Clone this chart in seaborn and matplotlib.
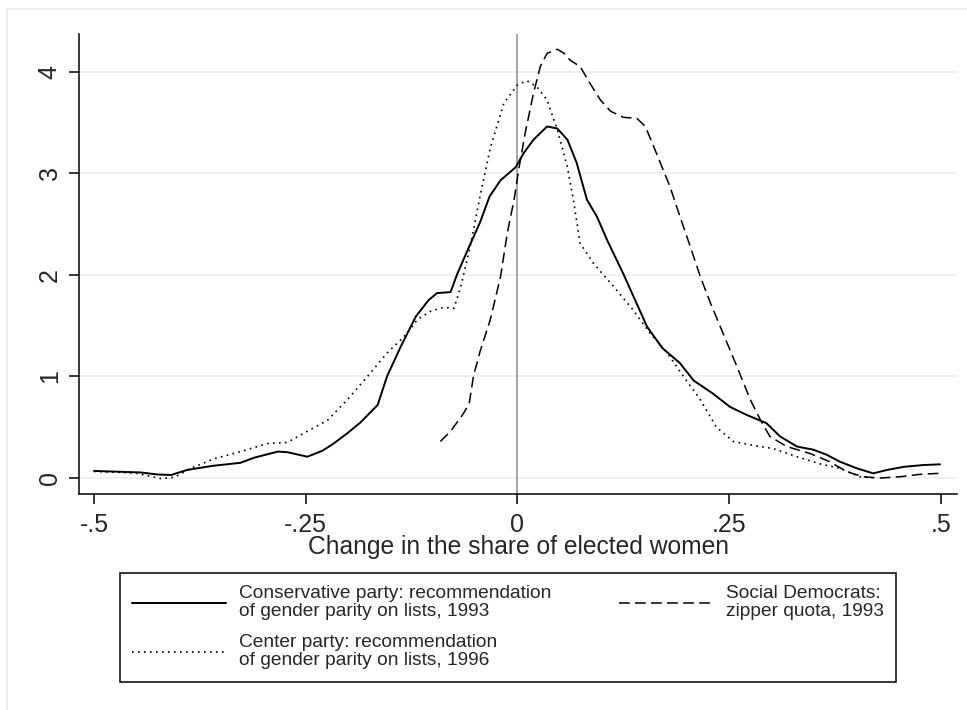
import matplotlib.pyplot as plt
import matplotlib.lines as mlines
import pandas as pd
import seaborn as sns


# Kernel densities of the change in the share of elected women.
cons_x = [-0.500, -0.445, -0.425, -0.409, -0.390, -0.360, -0.327, -0.311, -0.283, -0.272,
          -0.248, -0.230, -0.217, -0.201, -0.185, -0.165, -0.154, -0.138, -0.120, -0.105,
          -0.095, -0.079, -0.071, -0.059, -0.044, -0.033, -0.020, -0.002, 0.0075, 0.019,
          0.035, 0.047, 0.059, 0.070, 0.082, 0.094, 0.106, 0.125, 0.153, 0.171,
          0.192, 0.208, 0.231, 0.251, 0.271, 0.294, 0.310, 0.330, 0.349, 0.365,
          0.381, 0.401, 0.420, 0.436, 0.456, 0.479, 0.499]
cons_y = [0.070, 0.055, 0.035, 0.030, 0.080, 0.120, 0.150, 0.200, 0.260, 0.255,
          0.210, 0.270, 0.340, 0.440, 0.550, 0.720, 1.000, 1.290, 1.590, 1.750,
          1.820, 1.830, 2.010, 2.240, 2.520, 2.770, 2.930, 3.060, 3.200, 3.330,
          3.460, 3.440, 3.330, 3.100, 2.740, 2.570, 2.340, 2.010, 1.490, 1.280,
          1.130, 0.960, 0.830, 0.700, 0.620, 0.540, 0.410, 0.310, 0.280, 0.230,
          0.160, 0.095, 0.046, 0.079, 0.110, 0.128, 0.135]

center_x = [-0.500, -0.452, -0.435, -0.421, -0.405, -0.386, -0.358, -0.327, -0.295, -0.272,
            -0.248, -0.224, -0.201, -0.177, -0.154, -0.134, -0.118, -0.103, -0.087, -0.075,
            -0.067, -0.055, -0.044, -0.032, -0.016, 0.000, 0.011, 0.023, 0.035, 0.047,
            0.059, 0.066, 0.074, 0.090, 0.114, 0.137, 0.157, 0.177, 0.196, 0.216,
            0.235, 0.255, 0.279, 0.302, 0.330, 0.357, 0.381, 0.404, 0.425]
center_y = [0.065, 0.050, 0.020, -0.005, 0.007, 0.095, 0.190, 0.260, 0.340, 0.350,
            0.460, 0.570, 0.770, 1.000, 1.230, 1.390, 1.560, 1.640, 1.680, 1.670,
            1.880, 2.310, 2.780, 3.250, 3.690, 3.870, 3.910, 3.850, 3.720, 3.430,
            3.060, 2.740, 2.310, 2.110, 1.880, 1.650, 1.420, 1.230, 1.000, 0.770,
            0.500, 0.360, 0.320, 0.290, 0.210, 0.140, 0.095, 0.013, 0.000]

sd_x = [-0.091, -0.079, -0.065, -0.057, -0.052, -0.044, -0.032, -0.020, -0.012, -0.004,
        0.002, 0.009, 0.019, 0.027, 0.035, 0.047, 0.055, 0.0625, 0.074, 0.086,
        0.098, 0.110, 0.125, 0.141, 0.151, 0.161, 0.180, 0.192, 0.204, 0.216,
        0.228, 0.243, 0.259, 0.275, 0.287, 0.298, 0.318, 0.346, 0.369, 0.389,
        0.408, 0.428, 0.452, 0.475, 0.497]
sd_y = [0.360, 0.460, 0.620, 0.730, 1.000, 1.250, 1.560, 1.980, 2.410, 2.740,
        3.060, 3.390, 3.790, 4.050, 4.180, 4.220, 4.180, 4.110, 4.050, 3.880,
        3.720, 3.610, 3.550, 3.540, 3.460, 3.260, 2.870, 2.570, 2.280, 1.980,
        1.720, 1.420, 1.100, 0.770, 0.570, 0.410, 0.310, 0.240, 0.160, 0.062,
        0.013, 0.000, 0.013, 0.036, 0.046]

labels = ["Conservative party: recommendation\nof gender parity on lists, 1993",
          "Center party: recommendation\nof gender parity on lists, 1996",
          "Social Democrats:\nzipper quota, 1993"]
x_ticks = [-0.5, -0.25, 0, 0.25, 0.5]
x_tick_labels = ["-.5", "-.25", "0", ".25", ".5"]
y_ticks = [0, 1, 2, 3, 4]

sns.set_theme(style="white")
plt.rcParams["font.family"] = ["Liberation Sans", "DejaVu Sans"]

fig = plt.figure(figsize=(9.67, 7.10), dpi=100)
ax = fig.add_axes([79 / 967, 1 - 494 / 710, (957 - 79) / 967, (494 - 34) / 710])

grid_color = "#e6edf1"
for t in y_ticks:
    ax.axhline(t, color=grid_color, lw=1.1, zorder=0)
ax.axvline(0, color="#8c8c8c", lw=1.1, zorder=1)

styles = ["-", (0, (1, 2.6)), (0, (7, 3.5))]
widths = [1.4, 1.2, 1.1]
series = [(cons_x, cons_y), (center_x, center_y), (sd_x, sd_y)]
for (xs, ys), lab, ls, lw in zip(series, labels, styles, widths):
    df = pd.DataFrame({"x": xs, "density": ys})
    sns.lineplot(data=df, x="x", y="density", ax=ax, color="black", linestyle=ls,
                 linewidth=lw, estimator=None, label=lab, legend=False, zorder=3)

ax.set_xlim(-0.5177, 0.519)
ax.set_ylim(-0.157, 4.37)
ax.set_xticks(x_ticks)
ax.set_xticklabels(x_tick_labels)
ax.set_yticks(y_ticks)
ax.set_yticklabels([str(t) for t in y_ticks], rotation=90, va="center")
ax.tick_params(axis="both", which="major", length=7.5, width=1.1, color="black",
               labelsize=18, pad=6, bottom=True, left=True)
ax.tick_params(axis="y", pad=5)
ax.set_xlabel("Change in the share of elected women", fontsize=17.7, labelpad=-1)
ax.set_ylabel("")

for side in ["top", "right"]:
    ax.spines[side].set_visible(False)
for side in ["left", "bottom"]:
    ax.spines[side].set_color("black")
    ax.spines[side].set_linewidth(1.1)

# Legend in a box below the plot, two columns.
handles = [mlines.Line2D([], [], color="black", linestyle=ls, linewidth=lw)
           for ls, lw in zip(styles, widths)]
leg = fig.legend(handles, labels, loc="upper left", bbox_to_anchor=(120 / 967, 1 - 573 / 710),
                 borderaxespad=0, ncol=2, fontsize=13.8, frameon=True, fancybox=False,
                 framealpha=1, edgecolor="black", handlelength=4.9, handletextpad=0.68,
                 columnspacing=3.5, labelspacing=0.75, borderpad=0.65)
leg.get_frame().set_linewidth(1.1)
for txt in leg.get_texts():
    txt.set_linespacing(1.05)

# Light outer frame at the top and left edges.
fig.add_artist(mlines.Line2D([7 / 967, 1], [1 - 9 / 710, 1 - 9 / 710], color=grid_color, lw=1.1))
fig.add_artist(mlines.Line2D([7 / 967, 7 / 967], [0, 1 - 9 / 710], color=grid_color, lw=1.1))

fig.savefig("out.png", dpi=100)
